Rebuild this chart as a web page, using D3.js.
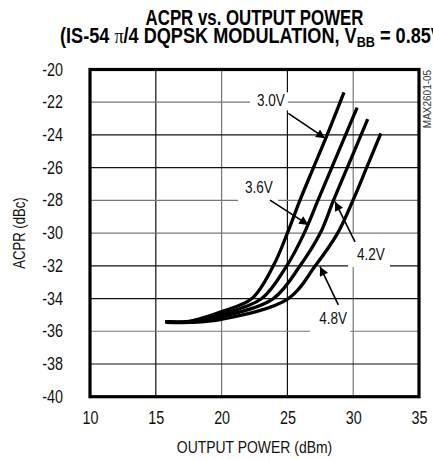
<!DOCTYPE html>
<html><head><meta charset="utf-8">
<script src="https://cdn.jsdelivr.net/npm/d3@7"></script>
<style>
html,body{margin:0;padding:0;background:#fff;}
svg{display:block;}
text{font-family:"Liberation Sans Narrow","Arial Narrow","Liberation Sans",Arial,sans-serif;}
</style></head>
<body>
<svg id="chart" width="433" height="460"></svg>
<script>
// ---- data ----
const xTicks = [10, 15, 20, 25, 30, 35];
const yTicks = [-20, -22, -24, -26, -28, -30, -32, -34, -36, -38, -40];
const seriesNames = ["3.0V", "3.6V", "4.2V", "4.8V"];
const v30 = [[15.7,-35.42],[17.5,-35.4],[20,-34.8],[22.3,-34],[23.93,-32],[25.0,-30],[25.95,-28],[26.98,-26],[28.02,-24],[29.3,-21.4]];
const v36 = [[15.8,-35.42],[17.5,-35.42],[20,-34.96],[23.05,-34],[24.95,-32],[26.28,-30],[27.32,-28],[28.37,-26],[29.42,-24],[30.3,-22.33]];
const v42 = [[15.8,-35.44],[17.5,-35.44],[20,-35.1],[23.93,-34],[25.96,-32],[27.5,-30],[28.5,-28],[29.55,-26],[30.6,-24],[31.1,-23.03]];
const v48 = [[15.8,-35.46],[17.5,-35.46],[20,-35.27],[25.07,-34],[27.12,-32],[28.82,-30],[29.98,-28],[31.02,-26],[32.1,-23.9]];
const seriesValues = [v30, v36, v42, v48];
// annotations: label, label position, white box [x0,x1,y0,y1], arrow from -> to (data units)
const annLabels = ["3.0V", "3.6V", "4.2V", "4.8V"];
const annText = [[23.75,-22.23],[22.84,-27.55],[31.35,-31.64],[28.47,-35.56]];
const annBox = [[22.16,25.05,-21.4,-22.5],[21.25,24.29,-26.63,-28.22],[29.6,32.8,-30.06,-32.07],[26.72,29.76,-34.09,-36.05]];
const annArrow = [[[25.07,-22.68],[27.86,-24.2]],[[23.68,-27.98],[26.59,-29.5]],[[30.14,-30.53],[28.62,-28.08]],[[28.87,-34.39],[27.48,-32.05]]];

const NARROW = 0.82;
function condense(sel, f){
  sel.each(function(){
    const L = this.getComputedTextLength();
    this.setAttribute("textLength", (L*f).toFixed(2));
    this.setAttribute("lengthAdjust","spacingAndGlyphs");
  });
}

const svg = d3.select("#chart");
const x = d3.scaleLinear().domain([10,35]).range([90,419]);
const y = d3.scaleLinear().domain([-40,-20]).range([396.7,69.5]);

svg.append("defs").append("marker")
  .attr("id","arr").attr("viewBox","0 0 10 10").attr("refX",10).attr("refY",5)
  .attr("markerWidth",12).attr("markerHeight",9).attr("markerUnits","userSpaceOnUse")
  .attr("orient","auto")
  .append("path").attr("d","M0,0 L10,5 L0,10 Z").attr("fill","#000");

// grid
const darkV = {15:true,25:true};
const darkH = {"-24":true,"-26":true,"-32":true,"-34":true,"-38":true};
svg.append("g").selectAll("line").data(xTicks.filter(d=>d>10&&d<35)).join("line")
  .attr("x1",d=>x(d)).attr("x2",d=>x(d)).attr("y1",y(-20)).attr("y2",y(-40))
  .attr("stroke",d=>darkV[d]?"#111":"#777").attr("stroke-width",1.2);
svg.append("g").selectAll("line").data(yTicks.filter(d=>d>-40&&d<-20)).join("line")
  .attr("y1",d=>y(d)).attr("y2",d=>y(d)).attr("x1",x(10)).attr("x2",x(35))
  .attr("stroke",d=>darkH[d]?"#111":"#777").attr("stroke-width",1.2);

// white label boxes
svg.append("g").selectAll("rect").data(annBox).join("rect")
  .attr("x",d=>x(d[0])).attr("width",d=>x(d[1])-x(d[0]))
  .attr("y",d=>y(d[2])).attr("height",d=>y(d[3])-y(d[2]))
  .attr("fill","#fff");

// frame
svg.append("rect").attr("x",x(10)).attr("y",y(-20)).attr("width",x(35)-x(10)).attr("height",y(-40)-y(-20))
  .attr("fill","none").attr("stroke","#000").attr("stroke-width",3.2);

// curves
const line = d3.line().x(d=>x(d[0])).y(d=>y(d[1])).curve(d3.curveCatmullRom.alpha(0.5));
svg.append("g").selectAll("path").data(seriesValues).join("path")
  .attr("d",line).attr("fill","none").attr("stroke","#000").attr("stroke-width",3.3);

// annotations
const labs = svg.append("g").selectAll("text").data(annLabels).join("text")
  .attr("x",(d,i)=>x(annText[i][0])).attr("y",(d,i)=>y(annText[i][1]))
  .attr("text-anchor","middle").attr("font-size",16.5).attr("fill","#111").text(d=>d);
condense(labs, NARROW);
svg.append("g").selectAll("line").data(annArrow).join("line")
  .attr("x1",d=>x(d[0][0])).attr("y1",d=>y(d[0][1])).attr("x2",d=>x(d[1][0])).attr("y2",d=>y(d[1][1]))
  .attr("stroke","#000").attr("stroke-width",1.6).attr("marker-end","url(#arr)");

// axes
const ax = svg.append("g").attr("transform",`translate(0,${y(-40)})`)
  .call(d3.axisBottom(x).tickValues(xTicks).tickSize(0).tickPadding(15).tickFormat(d3.format("d")));
ax.select(".domain").remove();
ax.selectAll("text").attr("font-size",17.5).attr("fill","#111").attr("font-family",null);
condense(ax.selectAll("text"), NARROW);
const ay = svg.append("g").attr("transform",`translate(${x(10)},0)`)
  .call(d3.axisLeft(y).tickValues(yTicks).tickSize(0).tickPadding(27).tickFormat(d=>String(d)));
ay.select(".domain").remove();
ay.selectAll("text").attr("font-size",17.5).attr("fill","#111").attr("font-family",null);
condense(ay.selectAll("text"), NARROW);

// axis titles
const xt = svg.append("text").attr("x",(x(10)+x(35))/2).attr("y",453).attr("text-anchor","middle")
  .attr("font-size",17).attr("fill","#111").text("OUTPUT POWER (dBm)");
condense(xt, NARROW);
const yt = svg.append("text").attr("transform",`translate(25,${(y(-20)+y(-40))/2}) rotate(-90)`)
  .attr("text-anchor","middle").attr("font-size",16).attr("fill","#111").text("ACPR (dBc)");
condense(yt, NARROW);

// title (condensed bold)
const cx = (x(10)+x(35))/2;
const g1 = svg.append("g");
const t1 = g1.append("text").attr("x",0).attr("y",25).attr("text-anchor","middle")
  .attr("font-size",21.5).attr("font-weight","bold").attr("fill","#000").text("ACPR vs. OUTPUT POWER");
g1.attr("transform",`translate(${cx},0) scale(${218/t1.node().getComputedTextLength()},1)`);
const g2 = svg.append("g");
const t2 = g2.append("text").attr("x",0).attr("y",43.5).attr("text-anchor","middle")
  .attr("font-size",21.5).attr("font-weight","bold").attr("fill","#000");
t2.append("tspan").text("(IS-54 ");
t2.append("tspan").attr("font-family","'Liberation Serif',serif").attr("font-weight","normal").text("π");
t2.append("tspan").text("/4 DQPSK MODULATION, V");
t2.append("tspan").attr("font-size",15).attr("dy",4).text("BB");
t2.append("tspan").attr("dy",-4).text(" = 0.85V)");
g2.attr("transform",`translate(${cx},0) scale(${389/t2.node().getComputedTextLength()},1)`);

// part number
svg.append("text").attr("transform","translate(431,99) rotate(-90)").attr("text-anchor","middle")
  .attr("font-size",10).attr("fill","#333").text("MAX2601-05");
</script>
</body></html>
